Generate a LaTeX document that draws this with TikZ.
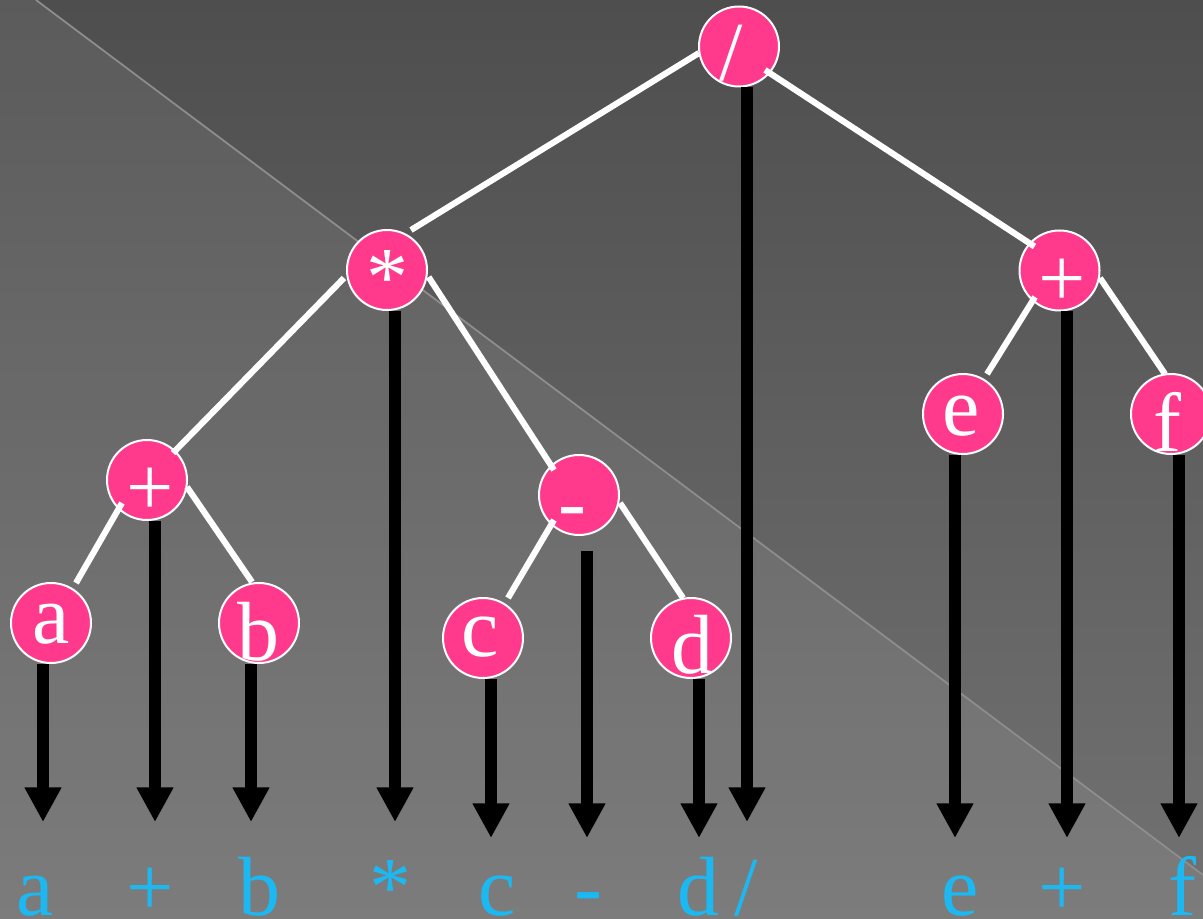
\documentclass[tikz,border=0pt]{standalone}
\usepackage{fontspec}
\setmainfont{Liberation Serif}
\usetikzlibrary{arrows.meta}
\definecolor{bgtop}{HTML}{4E4E4E}
\definecolor{bgbot}{HTML}{727272}
\definecolor{pinkfill}{HTML}{FF3A8C}
\definecolor{cyantxt}{HTML}{1CB8F2}
\definecolor{diag}{HTML}{8E8E8E}
\begin{document}
\begin{tikzpicture}[x=0.75pt,y=-0.75pt,
  bub/.style={circle,fill=pinkfill,draw=white,line width=1.5pt,minimum size=60pt,inner sep=0pt},
  ntxt/.style={anchor=base,text=white,inner sep=0pt,font=\fontsize{63}{63}\selectfont},
  ltxt/.style={anchor=base,text=cyantxt,inner sep=0pt,font=\fontsize{63}{63}\selectfont},
  stick/.style={draw=white,line width=4.6pt},
  arr/.style={draw=black,line width=9pt,-{Triangle[width=26pt,length=26pt]}}]
\useasboundingbox (0,0) rectangle (1203,919);
% background
\shade[top color=bgtop,bottom color=bgbot] (0,0) rectangle (1203,919);
\fill[white,opacity=0.075] (0,0) -- (36,0) -- (1203,875) -- (1203,919) -- (0,919) -- cycle;
\draw[diag,line width=1.3pt] (36,0) -- (1203,875);
% tree nodes
\node[bub] (slash) at (739,46.5) {};
\node[bub] (mul) at (387,270) {};
\node[bub] (plusL) at (147,480) {};
\node[bub] (minus) at (579,495) {};
\node[bub] (a) at (51,623) {};
\node[bub] (b) at (259,623) {};
\node[bub] (c) at (483,638) {};
\node[bub] (d) at (691,638) {};
\node[bub] (plusR) at (1059.5,270.5) {};
\node[bub] (e) at (963,414) {};
\node[bub] (f) at (1171,414) {};
% node texts
\node[ntxt] (tslash) at (731,81) {/};
\node[ntxt] (tmul) at (387,306) {*};
\node[ntxt] (tplusL) at (150,516) {+};
\node[ntxt] (tminus) at (572,531) {-};
\node[ntxt] (ta) at (51,643) {a};
\node[ntxt] (tb) at (258,660) {b};
\node[ntxt] (tc) at (480,656) {c};
\node[ntxt] (td) at (692,673) {d};
\node[ntxt] (tplusR) at (1062.5,307) {+};
\node[ntxt] (te) at (961,436) {e};
\node[ntxt] (tf) at (1167,452) {f};
% sticks
\draw[stick] ([shift={(-40,6.5)}]slash.center) -- ([shift={(24,-40)}]mul.center);
\draw[stick] ([shift={(26,23.5)}]slash.center) -- ([shift={(-25,-24)}]plusR.center);
\draw[stick] ([shift={(-43,8)}]mul.center) -- ([shift={(26,-27)}]plusL.center);
\draw[stick] ([shift={(41.6,7)}]mul.center) -- ([shift={(-25,-25)}]minus.center);
\draw[stick] ([shift={(-25,23)}]plusL.center) -- ([shift={(25,-40)}]a.center);
\draw[stick] ([shift={(40,7)}]plusL.center) -- ([shift={(-7,-41)}]b.center);
\draw[stick] ([shift={(-25,25)}]minus.center) -- ([shift={(25,-40)}]c.center);
\draw[stick] ([shift={(41,8)}]minus.center) -- ([shift={(-8,-40)}]d.center);
\draw[stick] ([shift={(-24.5,26.5)}]plusR.center) -- ([shift={(24,-40)}]e.center);
\draw[stick] ([shift={(40.5,7.5)}]plusR.center) -- ([shift={(-6,-40)}]f.center);
% bottom labels
\node[ltxt] (la) at (35,915) {a};
\node[ltxt] (lplusL) at (150,915) {+};
\node[ltxt] (lb) at (259,915) {b};
\node[ltxt] (lmul) at (390,915) {*};
\node[ltxt] (lc) at (497,915) {c};
\node[ltxt] (lminus) at (588,915) {-};
\node[ltxt] (ld) at (698,915) {d};
\node[ltxt] (lslash) at (746,915) {/};
\node[ltxt] (le) at (960,915) {e};
\node[ltxt] (lplusR) at (1062,915) {+};
\node[ltxt] (lf) at (1182,915) {f};
% arrow tips
\coordinate (xa) at (43,822);
\coordinate (xplusL) at (155,822);
\coordinate (xb) at (251,822);
\coordinate (xmul) at (395,822);
\coordinate (xc) at (491,838);
\coordinate (xminus) at (587,838);
\coordinate (sminus) at (587,551);
\coordinate (xd) at (699,838);
\coordinate (xslash) at (747,822);
\coordinate (xe) at (955,838);
\coordinate (xplusR) at (1067,838);
\coordinate (xf) at (1179,838);
% arrows
\draw[arr] (a.south -| xa) -- (xa);
\draw[arr] (plusL.south -| xplusL) -- (xplusL);
\draw[arr] (b.south -| xb) -- (xb);
\draw[arr] (mul.south -| xmul) -- (xmul);
\draw[arr] (c.south -| xc) -- (xc);
\draw[arr] (sminus) -- (xminus);
\draw[arr] (d.south -| xd) -- (xd);
\draw[arr] (slash.south -| xslash) -- (xslash);
\draw[arr] (e.south -| xe) -- (xe);
\draw[arr] (plusR.south -| xplusR) -- (xplusR);
\draw[arr] (f.south -| xf) -- (xf);
\end{tikzpicture}
\end{document}
